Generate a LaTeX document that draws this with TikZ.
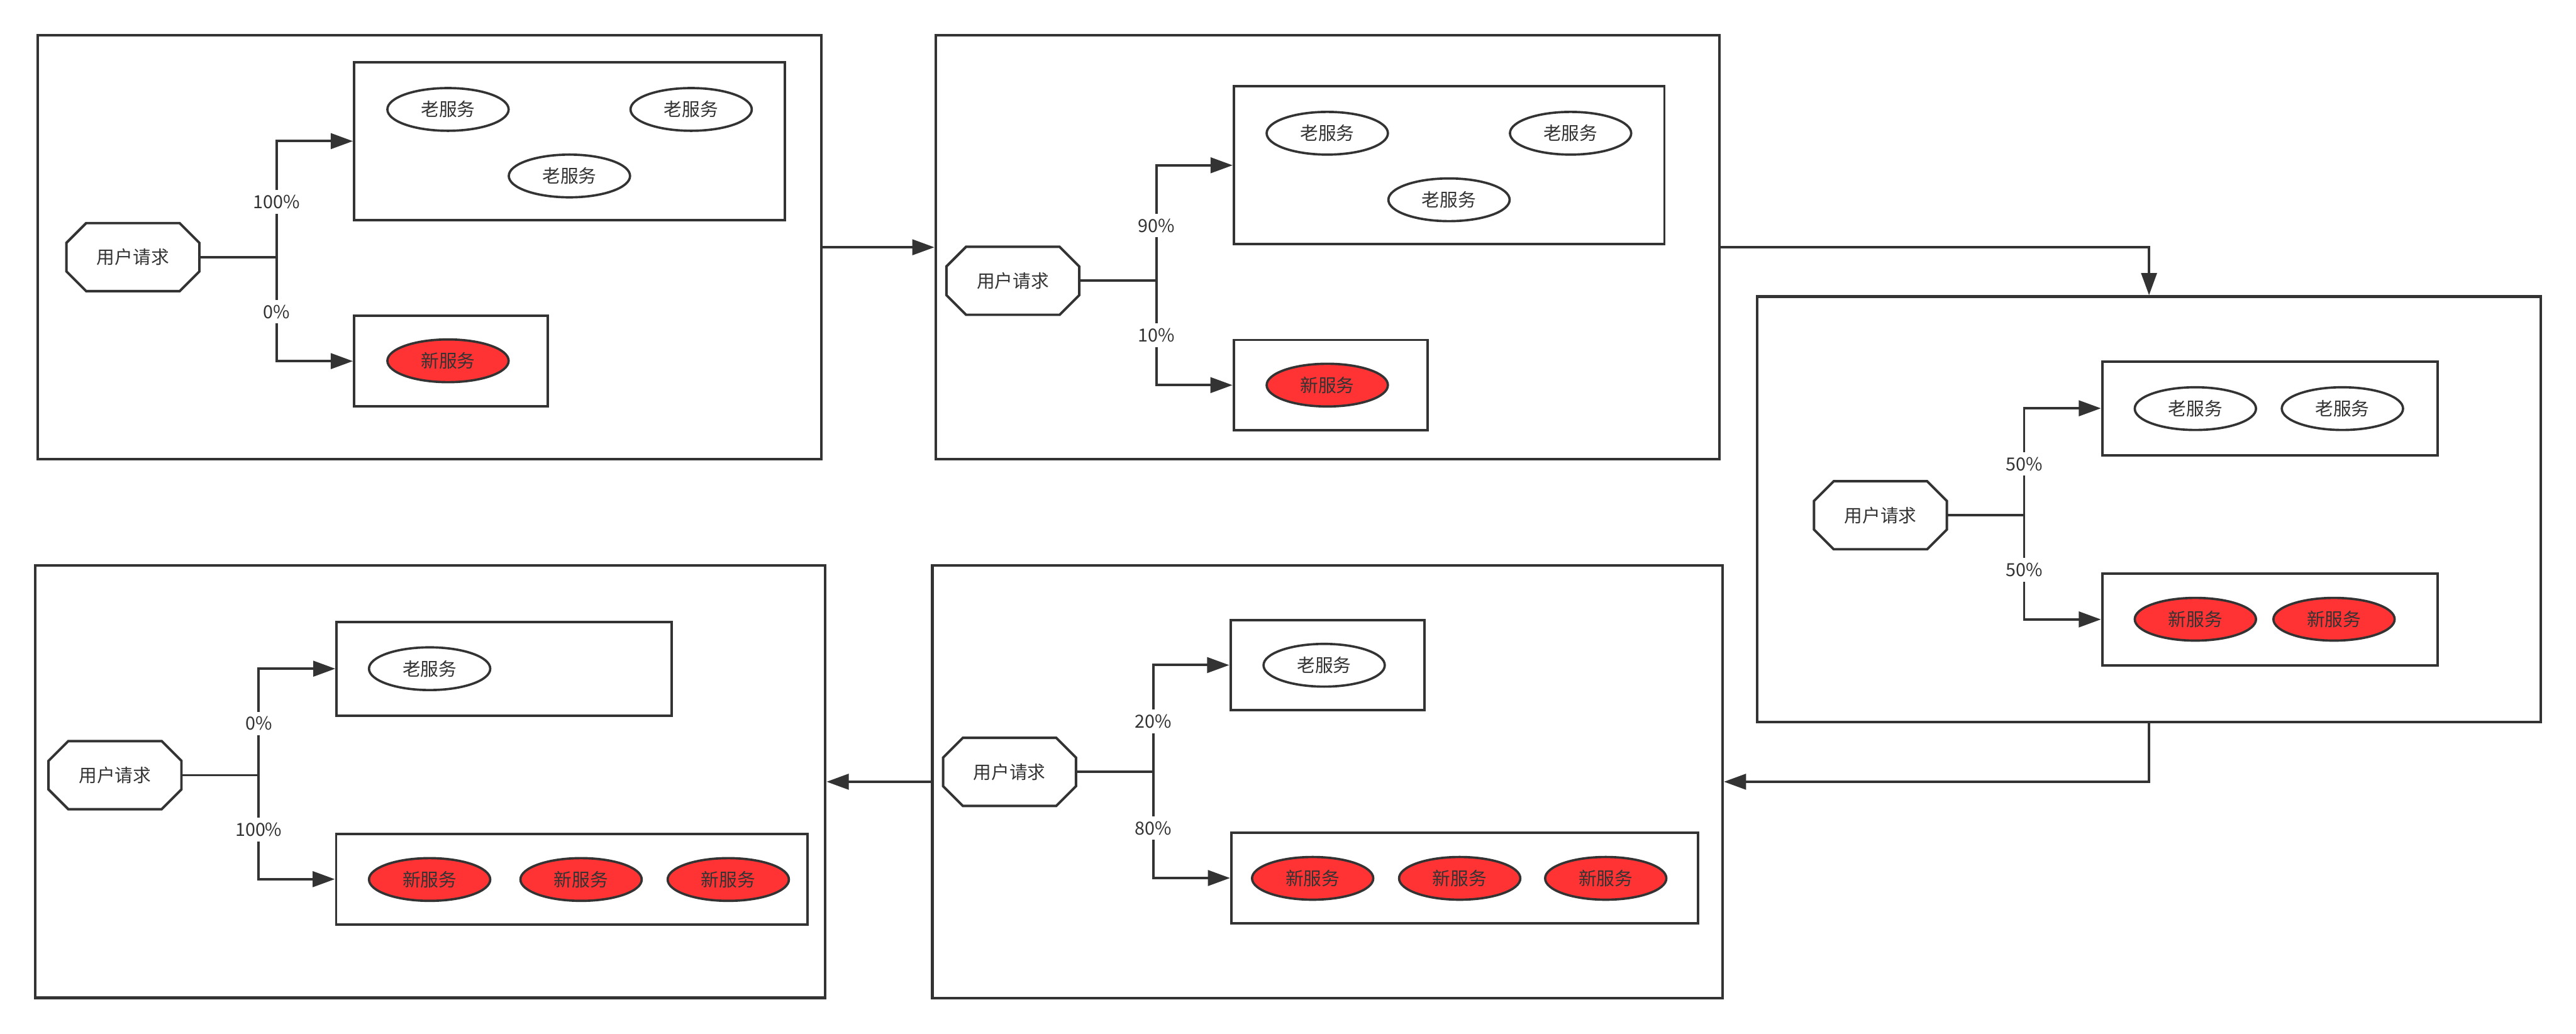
\documentclass[tikz,border=0pt]{standalone}
\usepackage{fontspec}
\setmainfont{Noto Sans CJK SC}
\usetikzlibrary{arrows.meta,shapes.geometric}

\definecolor{ink}{HTML}{333333}
\definecolor{newred}{HTML}{FF3333}

\tikzset{
    every node/.style={font=\fontsize{11pt}{13pt}\selectfont, text=ink},
    panel/.style 2 args={draw=ink, line width=1.6pt, rectangle, inner sep=0pt,
        minimum width=#1, minimum height=#2},
    group/.style 2 args={draw=ink, line width=1.5pt, rectangle, inner sep=0pt,
        minimum width=#1, minimum height=#2},
    request/.style={rectangle, inner sep=0pt, minimum width=80.5pt, minimum height=41pt},
    octo/.style={draw=ink, line width=1.5pt, line join=miter},
    oldsvc/.style={draw=ink, line width=1.4pt, ellipse, fill=white, inner sep=0pt,
        minimum width=73.8pt, minimum height=26pt},
    newsvc/.style={oldsvc, fill=newred},
    pct/.style={fill=white, inner xsep=1pt, inner ysep=3pt},
    flow/.style={draw=ink, line width=1.5pt, -{Triangle[length=13.5pt, width=9.4pt]}},
}

\begin{document}
\begin{tikzpicture}[x=1pt, y=-1pt]
    \useasboundingbox (0,0) rectangle (1568,629);
    \def\cut{12pt}

    % stage 1: 100 / 0
    \node[panel={477pt}{258pt}] (p1) at (261.6,150.5) {};
    \node[group={262pt}{96pt}] (o1) at (346.6,85.9) {};
    \node[group={118pt}{55pt}] (n1) at (274.6,219.8) {};
    \foreach \x/\y [count=\k] in {272.7/66.6, 420.7/66.6, 346.6/107.1}
        \node[oldsvc] (o1e\k) at (\x,\y) {老服务};
    \node[newsvc] (n1e1) at (272.7,219.6) {新服务};
    \node[request] (r1) at (80.9,156.5) {用户请求};
    \draw[flow] (r1.east) -- ++(47,0) coordinate (s1) |- (o1.west);
    \draw[flow] (s1) |- (n1.west);
    \path (s1) ++(0,-33.6) node[pct] (l1a) {100\%};
    \path (s1) ++(0,33.2) node[pct] (l1b) {0\%};

    % stage 2: 90 / 10
    \node[panel={477pt}{258pt}] (p2) at (808.1,150.5) {};
    \node[group={262pt}{96pt}] (o2) at (882.1,100.6) {};
    \node[group={118pt}{55pt}] (n2) at (810,234.4) {};
    \foreach \x/\y [count=\k] in {807.9/81.1, 956/81.1, 882/121.6}
        \node[oldsvc] (o2e\k) at (\x,\y) {老服务};
    \node[newsvc] (n2e1) at (807.9,234.4) {新服务};
    \node[request] (r2) at (616.5,170.9) {用户请求};
    \draw[flow] (r2.east) -- ++(47,0) coordinate (s2) |- (o2.west);
    \draw[flow] (s2) |- (n2.west);
    \path (s2) ++(0,-33.6) node[pct] (l2a) {90\%};
    \path (s2) ++(0,33.1) node[pct] (l2b) {10\%};

    % stage 3: 50 / 50
    \node[panel={477pt}{259pt}] (p3) at (1308.1,310) {};
    \node[group={204pt}{57pt}] (o3) at (1381.6,248.5) {};
    \node[group={204pt}{56pt}] (n3) at (1381.6,377) {};
    \foreach \x [count=\k] in {1336.3, 1425.8}
        \node[oldsvc] (o3e\k) at (\x,248.7) {老服务};
    \foreach \x [count=\k] in {1336.3, 1420.7}
        \node[newsvc] (n3e\k) at (\x,376.9) {新服务};
    \node[request] (r3) at (1144.6,313.6) {用户请求};
    \draw[flow] (r3.east) -- ++(47,0) coordinate (s3) |- (o3.west);
    \draw[flow] (s3) |- (n3.west);
    \path (s3) ++(0,-31.2) node[pct] (l3a) {50\%};
    \path (s3) ++(0,33.2) node[pct] (l3b) {50\%};

    % stage 4: 20 / 80
    \node[panel={481pt}{263.5pt}] (p4) at (808,475.8) {};
    \node[group={118pt}{55pt}] (o4) at (808,404.8) {};
    \node[group={284pt}{55pt}] (n4) at (891.5,534.4) {};
    \node[oldsvc] (o4e1) at (806,404.9) {老服务};
    \foreach \x [count=\k] in {799, 888.5, 977.4}
        \node[newsvc] (n4e\k) at (\x,534.6) {新服务};
    \node[request] (r4) at (614.5,469.8) {用户请求};
    \draw[flow] (r4.east) -- ++(47,0) coordinate (s4) |- (o4.west);
    \draw[flow] (s4) |- (n4.west);
    \path (s4) ++(0,-30.7) node[pct] (l4a) {20\%};
    \path (s4) ++(0,34.2) node[pct] (l4b) {80\%};

    % stage 5: 0 / 100
    \node[panel={481pt}{263pt}] (p5) at (261.8,475.8) {};
    \node[group={204pt}{57pt}] (o5) at (306.9,407) {};
    \node[group={287pt}{55pt}] (n5) at (348.1,535.1) {};
    \node[oldsvc] (o5e1) at (261.5,407) {老服务};
    \foreach \x [count=\k] in {261.5, 353.7, 443.3}
        \node[newsvc] (n5e\k) at (\x,535.3) {新服务};
    \node[request] (r5) at (70,471.8) {用户请求};
    \draw[flow] (r5.east) -- ++(47,0) coordinate (s5) |- (o5.west);
    \draw[flow] (s5) |- (n5.west);
    \path (s5) ++(0,-31.4) node[pct] (l5a) {0\%};
    \path (s5) ++(0,33.1) node[pct] (l5b) {100\%};

    % octagon outlines round the request nodes
    \foreach \r in {r1, r2, r3, r4, r5}
        \draw[octo] ([xshift=\cut]\r.north west) -- ([xshift=-\cut]\r.north east)
            -- ([yshift=-\cut]\r.north east) -- ([yshift=\cut]\r.south east)
            -- ([xshift=-\cut]\r.south east) -- ([xshift=\cut]\r.south west)
            -- ([yshift=\cut]\r.south west) -- ([yshift=-\cut]\r.north west) -- cycle;

    % between stages
    \draw[flow] (p1.east) -- (p2.west);
    \draw[flow] (p2.east) -| (p3.north);
    \draw[flow] (p3.south) |- (p4.east);
    \draw[flow] (p4.west) -- (p5.east);

\end{tikzpicture}
\end{document}
